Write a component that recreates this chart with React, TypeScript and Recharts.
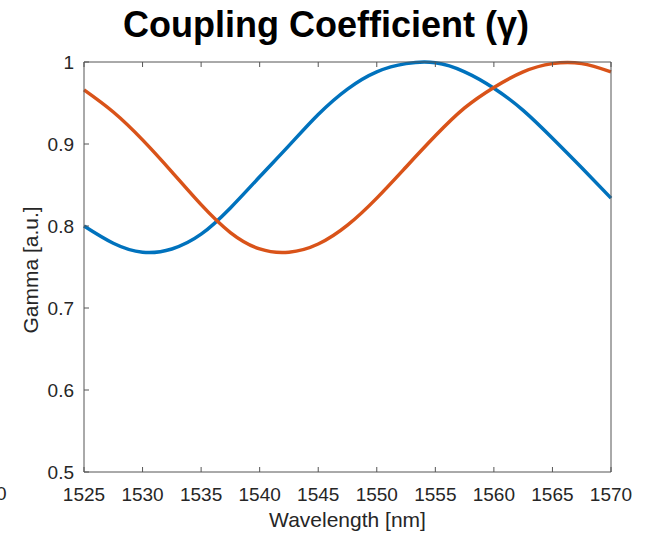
import { LineChart, Line, XAxis, YAxis } from "recharts";

const wavelengths = [
  1525, 1527.5, 1530, 1532.5, 1535, 1537.5, 1540, 1542.5, 1545, 1547.5,
  1550, 1552.5, 1555, 1557.5, 1560, 1562.5, 1565, 1567.5, 1570,
];
const gammaBlue = [
  0.8, 0.779, 0.768, 0.772, 0.79, 0.822, 0.86, 0.898, 0.936, 0.967,
  0.988, 0.998, 0.999, 0.988, 0.968, 0.941, 0.907, 0.871, 0.834,
];
const gammaOrange = [
  0.966, 0.939, 0.905, 0.866, 0.826, 0.792, 0.772, 0.768, 0.778, 0.801,
  0.834, 0.872, 0.91, 0.944, 0.969, 0.988, 0.998, 0.998, 0.988,
];
const xTicks = [1525, 1530, 1535, 1540, 1545, 1550, 1555, 1560, 1565, 1570];
const yTicks = [0.5, 0.6, 0.7, 0.8, 0.9, 1];

const data = wavelengths.map((w, i) => ({
  w,
  blue: gammaBlue[i],
  orange: gammaOrange[i],
}));

const font = "'Liberation Sans', Arial, Helvetica, sans-serif";
const textColor = "#262626";
const axisColor = "#555";
const tickStyle = { fill: textColor, fontSize: 19, fontFamily: font };

export default function App() {
  return (
    <div style={{ position: "absolute", left: 0, top: 0, width: 646, height: 533, background: "#fff", fontFamily: font, overflow: "hidden" }}>
      <div style={{ position: "absolute", left: 0, width: 646, top: 5, textAlign: "center", paddingLeft: 6, boxSizing: "border-box", fontSize: 36, fontWeight: "bold", color: "#000", lineHeight: "40px" }}>
        Coupling Coefficient (γ)
      </div>
      <div style={{ position: "absolute", left: 84, width: 527, top: 508, textAlign: "center", fontSize: 21, color: textColor, lineHeight: "24px" }}>
        Wavelength [nm]
      </div>
      <div style={{ position: "absolute", left: 31, top: 270, width: 0, height: 0 }}>
        <div style={{ position: "absolute", transform: "translate(-50%, -50%) rotate(-90deg)", whiteSpace: "nowrap", fontSize: 21, color: textColor, lineHeight: "24px" }}>
          Gamma [a.u.]
        </div>
      </div>
      <div style={{ position: "absolute", left: -4, top: 483, fontSize: 19, color: textColor }}>0</div>
      <LineChart
        width={646}
        height={533}
        data={data}
        margin={{ top: 61, right: 34, left: 24, bottom: 0 }}
      >
        <XAxis
          dataKey="w"
          type="number"
          domain={[1525, 1570]}
          ticks={xTicks}
          height={61}
          tickSize={-5}
          tickMargin={21}
          tick={tickStyle}
          stroke={axisColor}
          interval={0}
        />
        <XAxis
          xAxisId="top"
          orientation="top"
          dataKey="w"
          type="number"
          domain={[1525, 1570]}
          ticks={xTicks}
          height={1}
          tickSize={-5}
          tickFormatter={() => ""}
          stroke={axisColor}
          interval={0}
        />
        <YAxis
          type="number"
          domain={[0.5, 1]}
          ticks={yTicks}
          width={60}
          tickSize={-5}
          tickMargin={15}
          tick={tickStyle}
          tickFormatter={(v) => String(v)}
          stroke={axisColor}
          interval={0}
        />
        <YAxis
          yAxisId="right"
          orientation="right"
          type="number"
          domain={[0.5, 1]}
          ticks={yTicks}
          width={1}
          tickSize={-5}
          tickFormatter={() => ""}
          stroke={axisColor}
          interval={0}
        />
        <Line
          type="natural"
          dataKey="blue"
          stroke="#0072BD"
          strokeWidth={3.5}
          dot={false}
          isAnimationActive={false}
        />
        <Line
          type="natural"
          dataKey="orange"
          stroke="#D95319"
          strokeWidth={3.5}
          dot={false}
          isAnimationActive={false}
        />
      </LineChart>
    </div>
  );
}
